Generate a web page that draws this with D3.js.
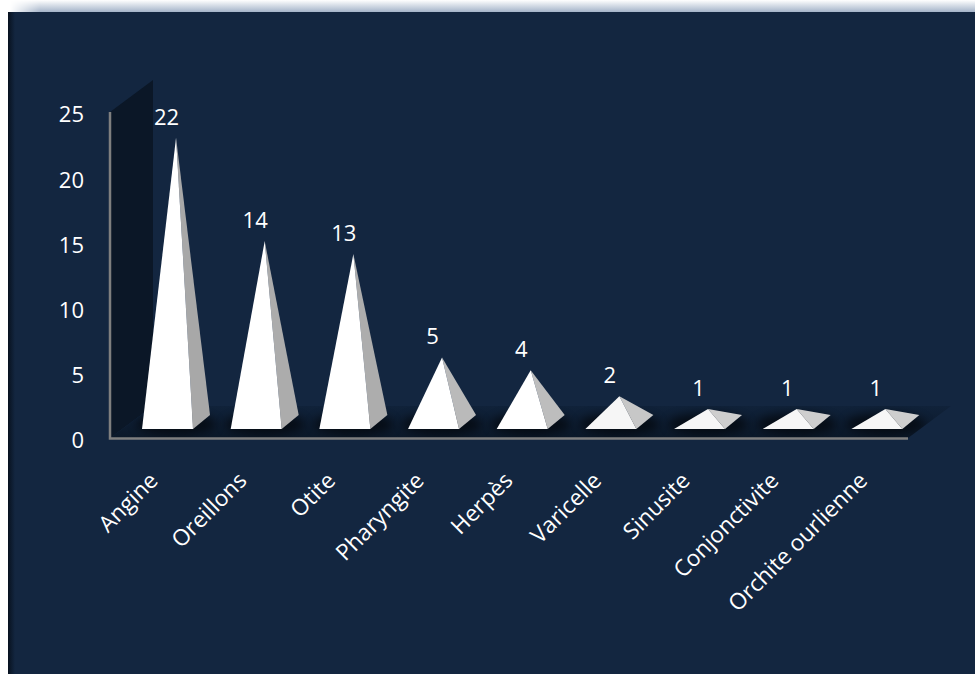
<!DOCTYPE html>
<html>
<head>
<meta charset="utf-8">
<script src="https://cdn.jsdelivr.net/npm/d3@7"></script>
<style>
  html, body { margin: 0; padding: 0; background: #ffffff; }
  svg { display: block; }
</style>
</head>
<body>
<script>
// Infections observed, by diagnosis
const categories = ["Angine", "Oreillons", "Otite", "Pharyngite", "Herpès", "Varicelle", "Sinusite", "Conjonctivite", "Orchite ourlienne"];
const values = [22, 14, 13, 5, 4, 2, 1, 1, 1];
const yTicks = [0, 5, 10, 15, 20, 25];

const W = 975, H = 674;
const FONT = "'Open Sans', 'DejaVu Sans', sans-serif";

const svg = d3.select("body").append("svg")
  .attr("width", W).attr("height", H);

const defs = svg.append("defs");

// Panel frame: soft top glow, darker left edge
const topGrad = defs.append("linearGradient").attr("id", "topGlow")
  .attr("x1", 0).attr("y1", 0).attr("x2", 0).attr("y2", 1);
topGrad.append("stop").attr("offset", "0%").attr("stop-color", "#ffffff");
topGrad.append("stop").attr("offset", "100%").attr("stop-color", "#9cadc4");

const fadeGrad = defs.append("linearGradient").attr("id", "leftFade")
  .attr("gradientUnits", "userSpaceOnUse")
  .attr("x1", 10).attr("y1", 0).attr("x2", 40).attr("y2", 0);
fadeGrad.append("stop").attr("offset", "0%").attr("stop-color", "#fff").attr("stop-opacity", 0);
fadeGrad.append("stop").attr("offset", "100%").attr("stop-color", "#fff").attr("stop-opacity", 1);
defs.append("mask").attr("id", "topMask")
  .append("rect").attr("x", 0).attr("y", 0).attr("width", W).attr("height", 14)
  .attr("fill", "url(#leftFade)");

const edgeGrad = defs.append("linearGradient").attr("id", "leftEdge")
  .attr("x1", 0).attr("y1", 0).attr("x2", 1).attr("y2", 0);
edgeGrad.append("stop").attr("offset", "0%").attr("stop-color", "#060f1b").attr("stop-opacity", 0.9);
edgeGrad.append("stop").attr("offset", "100%").attr("stop-color", "#060f1b").attr("stop-opacity", 0);

const floorGrad = defs.append("linearGradient").attr("id", "floorGrad")
  .attr("x1", 0).attr("y1", 0).attr("x2", 0).attr("y2", 1);
floorGrad.append("stop").attr("offset", "0%").attr("stop-color", "#10223a");
floorGrad.append("stop").attr("offset", "100%").attr("stop-color", "#0b1829");

defs.append("filter").attr("id", "soft")
  .attr("x", "-50%").attr("y", "-100%").attr("width", "200%").attr("height", "300%")
  .append("feGaussianBlur").attr("stdDeviation", 5);

svg.append("rect").attr("x", 0).attr("y", 0).attr("width", W).attr("height", 13)
  .attr("fill", "url(#topGlow)").attr("mask", "url(#topMask)");
svg.append("rect").attr("x", 8).attr("y", 12).attr("width", W - 8).attr("height", H - 12)
  .attr("fill", "#132640");
svg.append("rect").attr("x", 8).attr("y", 12).attr("width", 7).attr("height", H - 12)
  .attr("fill", "url(#leftEdge)");

// Scales
const x = d3.scaleBand().domain(categories).range([110, 908]).padding(0);
const y = d3.scaleLinear().domain([0, 25]).range([440, 114]);
// Pyramid heights are measured from the centre of their base, set back in depth
const yP = d3.scaleLinear().domain([0, 25]).range([422, 422 - 25 * 12.92]);

// Depth of the 3D box (offset of the back plane)
const DX = 43, DY = -32;
const floorY = y(0) - 2;

// Side wall
const wallTop = y(25) - 2;
svg.append("path")
  .attr("d", d3.line()([
    [110, wallTop], [110 + DX, wallTop + DY], [110 + DX, floorY + DY], [110, floorY]
  ]) + "Z")
  .attr("fill", "#0b1727");

// Floor
const floorPts = [[110, floorY], [908, floorY], [908 + DX, floorY + DY], [110 + DX, floorY + DY]];
svg.append("path")
  .attr("d", d3.line()(floorPts) + "Z")
  .attr("fill", "url(#floorGrad)");

defs.append("clipPath").attr("id", "floorClip")
  .append("path").attr("d", d3.line()(floorPts) + "Z");

// Pyramid geometry
const HW = 25.5;           // half width of the base front edge
const BDX = 17, BDY = -14; // depth of the base
const baseFrontY = 429;
const frontCenter = c => x(c) + x.bandwidth() / 2 + 13.2;

// Soft shadows around each base
svg.append("g").attr("clip-path", "url(#floorClip)")
  .selectAll("ellipse").data(categories).join("ellipse")
  .attr("cx", c => frontCenter(c) + BDX / 2)
  .attr("cy", baseFrontY + BDY / 2 + 2)
  .attr("rx", 40).attr("ry", 11)
  .attr("fill", "#000").attr("opacity", 0.55)
  .attr("filter", "url(#soft)");

const data = categories.map((c, i) => ({ c, v: values[i] }));

// Steeper faces catch less light
const sideShade = v => {
  const h = yP(0) - yP(v);
  const t = h / (h + 60);
  const g = Math.round(216 - t * 58);
  return d3.rgb(g, g, g).formatHex();
};

const pyr = svg.append("g").selectAll("g").data(data).join("g");

pyr.each(function(d) {
  const g = d3.select(this);
  const fc = frontCenter(d.c);
  const fl = [fc - HW, baseFrontY];
  const fr = [fc + HW, baseFrontY];
  const br = [fc + HW + BDX, baseFrontY + BDY];
  const apex = [fc + BDX / 2, yP(d.v)];
  g.append("path").attr("d", d3.line()([fr, br, apex]) + "Z")
    .attr("fill", sideShade(d.v));
  g.append("path").attr("d", d3.line()([fl, fr, apex]) + "Z")
    .attr("fill", d.v < 3 ? "#f6f6f6" : "#ffffff");
  g.append("text")
    .attr("x", fc - 1)
    .attr("y", apex[1] - 13)
    .attr("text-anchor", "middle")
    .attr("fill", "#ffffff")
    .attr("font-family", FONT)
    .attr("font-size", 22)
    .text(d.v);
});

// Axis lines
svg.append("path")
  .attr("d", `M110,${y(25) - 2}V${y(0) - 1.5}H908`)
  .attr("fill", "none").attr("stroke", "#7f7f7f").attr("stroke-width", 2.5);

// Value axis
const yAxis = svg.append("g").attr("transform", "translate(110,0)")
  .call(d3.axisLeft(y).tickValues(yTicks).tickSize(0).tickPadding(26));
yAxis.select(".domain").remove();
yAxis.selectAll("text")
  .attr("fill", "#ffffff")
  .attr("font-family", FONT)
  .attr("font-size", 22)
  .attr("dy", "0.36em");

// Category labels, rotated
svg.append("g").selectAll("text").data(categories).join("text")
  .attr("transform", c => `translate(${x(c) + x.bandwidth() / 2 + 5},482) rotate(-45)`)
  .attr("text-anchor", "end")
  .attr("fill", "#ffffff")
  .attr("font-family", FONT)
  .attr("font-size", 22.6)
  .text(c => c);
</script>
</body>
</html>
